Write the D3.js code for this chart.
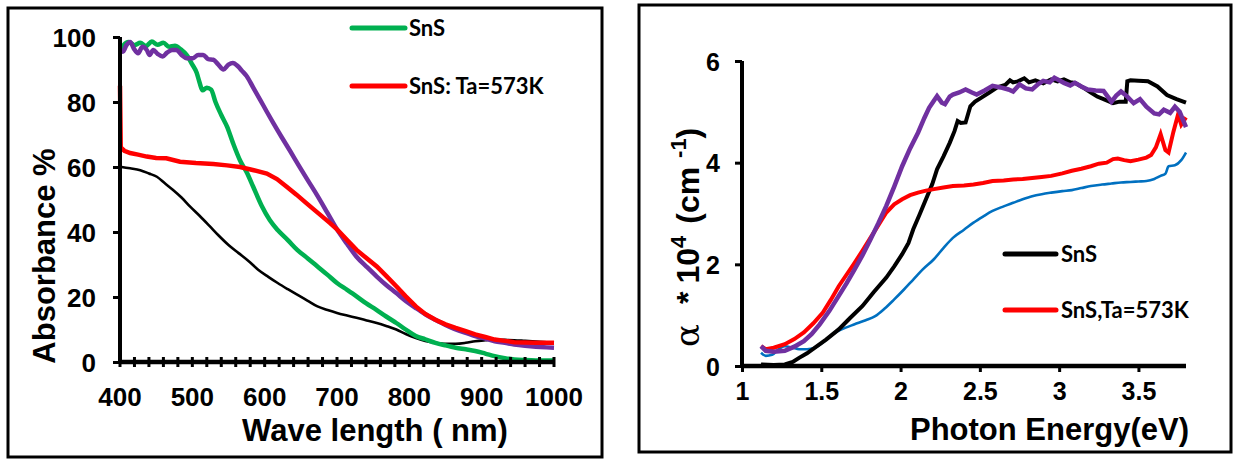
<!DOCTYPE html>
<html>
<head>
<meta charset="utf-8">
<script src="https://cdn.jsdelivr.net/npm/d3@7"></script>
<style>
body{margin:0;background:#fff;}
svg{display:block;}
.tick-lab{font-family:"Liberation Sans",Arial,sans-serif;font-weight:bold;fill:#000;}
.leg{font-family:Lato,"Open Sans",sans-serif;font-weight:bold;fill:#000;}
</style>
</head>
<body>
<div class="canvas"></div>
<script>
//--- left panel data: wavelength (nm) vs absorbance %
var absTicks = [0,20,40,60,80,100];
var wlTicks = [400,500,600,700,800,900,1000];

var greenWl  = [400,405,412,420,428,436,444,452,460,468,476,484,492,500,506,510,514,520,526,532,540,548,556,566,576,584,596,607,618,632,645,660,673,687,700,714,727,740,754,768,782,795,809,822,836,850,864,878,891,905,918,932,945,960,975,990,1000];
var greenAbs = [95,97.5,98.5,97.5,98.2,97.2,98.6,97.6,98.2,97.0,97.3,96.2,94.5,91.5,89,86,83.6,84.4,83.8,80,76,72.4,67.5,62,58,54,48,43.7,40.6,37.5,34.5,31.8,29.4,26.8,24.3,22.2,20.2,18.1,16.1,14,12,10,8,7,5.9,5.1,4.4,3.9,3.4,2.6,1.8,1.2,0.8,0.6,0.5,0.5,0.5];

var purpleWl  = [400,404,409,414,419,425,431,437,441,446,452,459,465,472,478,485,492,501,508,515,522,529,536,543,550,556,563,569,575,584,594,603,612,624,635,647,658,672,686,700,714,727,741,755,768,782,795,809,822,836,850,864,878,891,905,918,932,945,960,975,990,1000];
var purpleAbs = [96,95.5,97.5,98.5,96.5,95,97,96,94.5,96,94.8,94,95.2,96,96,94.5,93.5,93.5,94.5,94.5,93.2,93,91.5,90,91.5,92,91,89.5,88,84.5,80.6,77,73.5,69,65,60.5,56.5,51.5,46.2,40.8,36.3,32.4,29.3,26.3,23.7,21.2,18.8,16.6,14.7,13,11.4,10,9,8,7.2,6.4,5.9,5.4,5,4.7,4.5,4.4];

var redWl  = [400,401,406,414,425,437,450,464,483,505,529,548,566,585,603,617,630,644,658,674,690,700,714,727,741,755,768,782,795,809,822,836,850,864,878,891,905,918,932,945,960,975,990,1000];
var redAbs = [85,66,65,64.3,63.8,63.2,62.8,62.7,61.6,61.2,60.9,60.5,60,59,58,56.3,54,51.5,48.8,45.8,42.8,40.8,37.5,34.5,31.9,29.4,26.5,23.3,20.2,17.1,14.8,13,11.6,10.5,9.5,8.5,7.7,6.9,6.5,6.1,6,5.9,5.9,5.9];

var blackWl  = [400,414,428,440,451,462,473,485,497,510,524,536,550,564,578,591,605,618,632,645,659,673,687,700,714,727,741,755,768,782,795,809,822,836,850,864,878,891,905,918,932,945,960,975,990,1000];
var blackAbs = [60.1,59.6,59,58,57,55,53,50.6,47.8,45,41.8,39,36,33.5,31,28.4,26.2,24.3,22.4,20.7,18.9,17.1,16,15.1,14.3,13.6,12.8,12,11.1,10,8.6,7.4,6.5,5.9,5.6,5.6,5.9,6.4,6.7,6.9,6.8,6.7,6.5,6.3,6.1,5.9];

//--- right panel data: photon energy (eV) vs alpha*10^4
var alphaTicks = [0,2,4,6];
var evTicks = [1,1.5,2,2.5,3,3.5];

var blkEv = [1.12,1.2,1.27,1.32,1.36,1.41,1.46,1.53,1.61,1.68,1.76,1.83,1.91,1.96,2.01,2.05,2.08,2.12,2.16,2.2,2.23,2.27,2.31,2.34,2.36,2.38,2.41,2.44,2.47,2.51,2.56,2.61,2.66,2.69,2.71,2.74,2.78,2.81,2.85,2.9,2.95,2.99,3.03,3.07,3.1,3.15,3.2,3.24,3.28,3.34,3.38,3.42,3.43,3.45,3.5,3.56,3.62,3.68,3.74,3.8];
var blkA  = [0.03,0.02,0.03,0.08,0.16,0.25,0.36,0.52,0.72,0.94,1.18,1.45,1.74,1.96,2.2,2.42,2.69,2.98,3.28,3.58,3.87,4.12,4.39,4.62,4.82,4.78,4.79,5.11,5.2,5.28,5.38,5.48,5.53,5.62,5.58,5.6,5.66,5.58,5.62,5.56,5.64,5.6,5.64,5.58,5.57,5.48,5.38,5.3,5.25,5.17,5.2,5.2,5.6,5.62,5.61,5.6,5.5,5.33,5.25,5.18];

var purEv = [1.12,1.15,1.2,1.27,1.33,1.39,1.44,1.49,1.55,1.61,1.66,1.71,1.76,1.81,1.86,1.91,1.96,2.01,2.06,2.11,2.15,2.18,2.21,2.23,2.26,2.28,2.31,2.33,2.37,2.41,2.45,2.48,2.53,2.58,2.63,2.68,2.71,2.75,2.79,2.83,2.87,2.9,2.94,2.97,3.0,3.03,3.07,3.1,3.14,3.18,3.23,3.28,3.33,3.36,3.39,3.43,3.47,3.51,3.55,3.6,3.63,3.66,3.7,3.73,3.76,3.8];
var purA  = [0.39,0.3,0.28,0.3,0.38,0.49,0.63,0.82,1.08,1.38,1.63,1.9,2.18,2.49,2.81,3.15,3.53,3.93,4.28,4.59,4.88,5.08,5.22,5.31,5.18,5.15,5.3,5.34,5.38,5.44,5.38,5.34,5.42,5.51,5.48,5.44,5.4,5.54,5.46,5.44,5.55,5.61,5.58,5.67,5.62,5.57,5.52,5.57,5.5,5.44,5.42,5.41,5.2,5.32,5.4,5.3,5.17,5.25,5.1,4.97,4.95,5.04,4.98,5.1,5.0,4.7];

var redEv = [1.12,1.15,1.2,1.27,1.33,1.39,1.45,1.51,1.56,1.61,1.66,1.71,1.76,1.81,1.86,1.91,1.96,2.01,2.06,2.11,2.16,2.21,2.27,2.33,2.4,2.46,2.52,2.58,2.65,2.71,2.77,2.83,2.89,2.95,3.02,3.08,3.14,3.2,3.25,3.3,3.34,3.37,3.41,3.45,3.5,3.55,3.58,3.61,3.64,3.67,3.69,3.72,3.75,3.77,3.8];
var redA  = [0.39,0.33,0.36,0.43,0.53,0.66,0.84,1.05,1.3,1.57,1.8,2.03,2.27,2.52,2.77,3.02,3.18,3.28,3.36,3.41,3.45,3.48,3.51,3.54,3.55,3.57,3.6,3.64,3.65,3.67,3.68,3.7,3.72,3.74,3.79,3.84,3.88,3.93,3.98,4.0,4.07,4.08,4.05,4.03,4.06,4.1,4.15,4.3,4.56,4.25,4.2,4.6,4.95,4.75,4.89];

var bluEv = [1.12,1.15,1.19,1.23,1.27,1.32,1.36,1.41,1.46,1.52,1.59,1.65,1.71,1.78,1.84,1.9,1.96,2.02,2.08,2.14,2.21,2.27,2.33,2.4,2.46,2.52,2.58,2.65,2.71,2.77,2.83,2.89,2.95,3.02,3.08,3.14,3.2,3.27,3.33,3.39,3.45,3.5,3.55,3.6,3.64,3.67,3.69,3.73,3.77,3.8];
var bluA  = [0.26,0.2,0.22,0.33,0.39,0.36,0.33,0.33,0.36,0.49,0.66,0.75,0.82,0.9,0.98,1.13,1.31,1.5,1.7,1.9,2.1,2.32,2.52,2.68,2.82,2.94,3.05,3.14,3.21,3.28,3.34,3.38,3.41,3.44,3.46,3.5,3.54,3.57,3.59,3.61,3.62,3.63,3.64,3.68,3.74,3.78,3.93,3.95,4.05,4.2];

var svg = d3.select('.canvas')
	.append('svg')
	.attr('width',1236)
	.attr('height',459);

function zip(xs, ys){
	return xs.map(function(d,i){ return [d, ys[i]]; });
}

//--------------- LEFT PANEL ---------------
svg.append('rect')
	.attr('x',8).attr('y',8).attr('width',594).attr('height',449)
	.attr('fill','none').attr('stroke','#000').attr('stroke-width',3);

var xL = d3.scaleLinear().domain([400,1000]).range([120,554]);
var yL = d3.scaleLinear().domain([0,100]).range([362,37]);

var left = svg.append('g');

var lineL = d3.line()
	.x(function(d){ return xL(d[0]); })
	.y(function(d){ return yL(d[1]); })
	.curve(d3.curveMonotoneX);

left.append('path').attr('d',lineL(zip(blackWl,blackAbs)))
	.attr('fill','none').attr('stroke','#000').attr('stroke-width',2.6);
left.append('path').attr('d',lineL(zip(greenWl,greenAbs)))
	.attr('fill','none').attr('stroke','#00b050').attr('stroke-width',4.5);
left.append('path').attr('d',lineL(zip(purpleWl,purpleAbs)))
	.attr('fill','none').attr('stroke','#7030a0').attr('stroke-width',4.5);
left.append('path').attr('d',d3.line().x(function(d){return xL(d[0]);}).y(function(d){return yL(d[1]);})(zip(redWl,redAbs)))
	.attr('fill','none').attr('stroke','#ff0000').attr('stroke-width',4.5);

// y axis
left.append('g')
	.attr('transform','translate('+xL(400)+',0)')
	.call(d3.axisLeft(yL).tickValues(absTicks).tickSize(7).tickPadding(17).tickFormat(d3.format('d')))
	.call(function(g){
		g.select('.domain').attr('stroke-width',4).attr('d','M0,'+yL(100)+'V'+yL(0));
		g.selectAll('.tick line').attr('stroke-width',3);
		g.selectAll('.tick text').attr('class','tick-lab').style('font-size','26px').attr('dy','0.36em');
	});

// x axis with crossing minor ticks every 20 nm
var xAxL = left.append('g').attr('transform','translate(0,'+yL(0)+')');
xAxL.append('line').attr('x1',xL(400)).attr('x2',xL(1000)).attr('stroke','#000').attr('stroke-width',4.5);
xAxL.selectAll('.mt').data(d3.range(400,1001,20)).enter().append('line')
	.attr('x1',function(d){ return xL(d); }).attr('x2',function(d){ return xL(d); })
	.attr('y1',-5).attr('y2',5).attr('stroke','#000').attr('stroke-width',3);
xAxL.selectAll('.tl').data(wlTicks).enter().append('text')
	.attr('class','tick-lab').style('font-size','26px')
	.attr('x',function(d){ return xL(d); }).attr('y',44)
	.attr('text-anchor','middle').text(function(d){ return d; });

left.append('text').attr('class','tick-lab').style('font-size','31px')
	.attr('x',xL(700)+38).attr('y',441).attr('text-anchor','middle')
	.text('Wave length ( nm)');
left.append('text').attr('class','tick-lab').style('font-size','31px')
	.attr('transform','translate(55,256) rotate(-90)').attr('text-anchor','middle')
	.text('Absorbance %');

// legend
var legL = [{name:'SnS',c:'#00b050',y:28},{name:'SnS: Ta=573K',c:'#ff0000',y:86}];
legL.forEach(function(l){
	left.append('line').attr('x1',352).attr('x2',405).attr('y1',l.y).attr('y2',l.y)
		.attr('stroke',l.c).attr('stroke-width',5).attr('stroke-linecap','round');
	left.append('text').attr('class','leg').style('font-size','22px')
		.attr('x',409).attr('y',l.y+8).text(l.name);
});

//--------------- RIGHT PANEL ---------------
svg.append('rect')
	.attr('x',639).attr('y',5).attr('width',592).attr('height',447)
	.attr('fill','none').attr('stroke','#000').attr('stroke-width',3);

var xR = d3.scaleLinear().domain([1,3.8]).range([742,1186]);
var yR = d3.scaleLinear().domain([0,6]).range([366,61]);

var right = svg.append('g');

var lineR = d3.line()
	.x(function(d){ return xR(d[0]); })
	.y(function(d){ return yR(d[1]); });

right.append('path').attr('d',lineR.curve(d3.curveMonotoneX)(zip(bluEv,bluA)))
	.attr('fill','none').attr('stroke','#0070c0').attr('stroke-width',2.6);
right.append('path').attr('d',lineR.curve(d3.curveLinear)(zip(blkEv,blkA)))
	.attr('fill','none').attr('stroke','#000').attr('stroke-width',4);
right.append('path').attr('d',lineR(zip(redEv,redA)))
	.attr('fill','none').attr('stroke','#ff0000').attr('stroke-width',4);
right.append('path').attr('d',lineR(zip(purEv,purA)))
	.attr('fill','none').attr('stroke','#7030a0').attr('stroke-width',4.5);

right.append('g')
	.attr('transform','translate('+xR(1)+',0)')
	.call(d3.axisLeft(yR).tickValues(alphaTicks).tickSize(7).tickPadding(15).tickFormat(d3.format('d')))
	.call(function(g){
		g.select('.domain').attr('stroke-width',4).attr('d','M0,'+yR(6)+'V'+yR(0));
		g.selectAll('.tick line').attr('stroke-width',3);
		g.selectAll('.tick text').attr('class','tick-lab').style('font-size','25px').attr('dy','0.36em');
	});

right.append('g')
	.attr('transform','translate(0,'+yR(0)+')')
	.call(d3.axisBottom(xR).tickValues(evTicks).tickSize(6).tickPadding(10).tickFormat(d3.format('')))
	.call(function(g){
		g.select('.domain').attr('stroke-width',4.5).attr('d','M'+xR(1)+',0H'+xR(3.8));
		g.selectAll('.tick line').attr('stroke-width',3);
		g.selectAll('.tick text').attr('class','tick-lab').style('font-size','25px');
	});

right.append('text').attr('class','tick-lab').style('font-size','31px')
	.attr('x',1189).attr('y',440).attr('text-anchor','end')
	.text('Photon Energy(eV)');

var yTitle = right.append('text').attr('class','tick-lab').style('font-size','32px')
	.attr('transform','translate(699,347) rotate(-90)').attr('text-anchor','start');
yTitle.append('tspan').style('font-weight','normal').style('font-family','"DejaVu Serif",serif').style('font-size','34px').text('α');
yTitle.append('tspan').attr('dx',20).text('*');
yTitle.append('tspan').attr('dx',8).text('10');
yTitle.append('tspan').attr('dy',-13).style('font-size','22px').text('4');
yTitle.append('tspan').attr('dx',12).attr('dy',13).text('(cm ');
yTitle.append('tspan').attr('dy',-13).style('font-size','22px').text('-1');
yTitle.append('tspan').attr('dy',13).text(')');

var legR = [{name:'SnS',c:'#000',y:254},{name:'SnS,Ta=573K',c:'#ff0000',y:310}];
legR.forEach(function(l){
	right.append('line').attr('x1',1005).attr('x2',1056).attr('y1',l.y).attr('y2',l.y)
		.attr('stroke',l.c).attr('stroke-width',5).attr('stroke-linecap','round');
	right.append('text').attr('class','leg').style('font-size','22px')
		.attr('x',1061).attr('y',l.y+8).text(l.name);
});
</script>
</body>
</html>
